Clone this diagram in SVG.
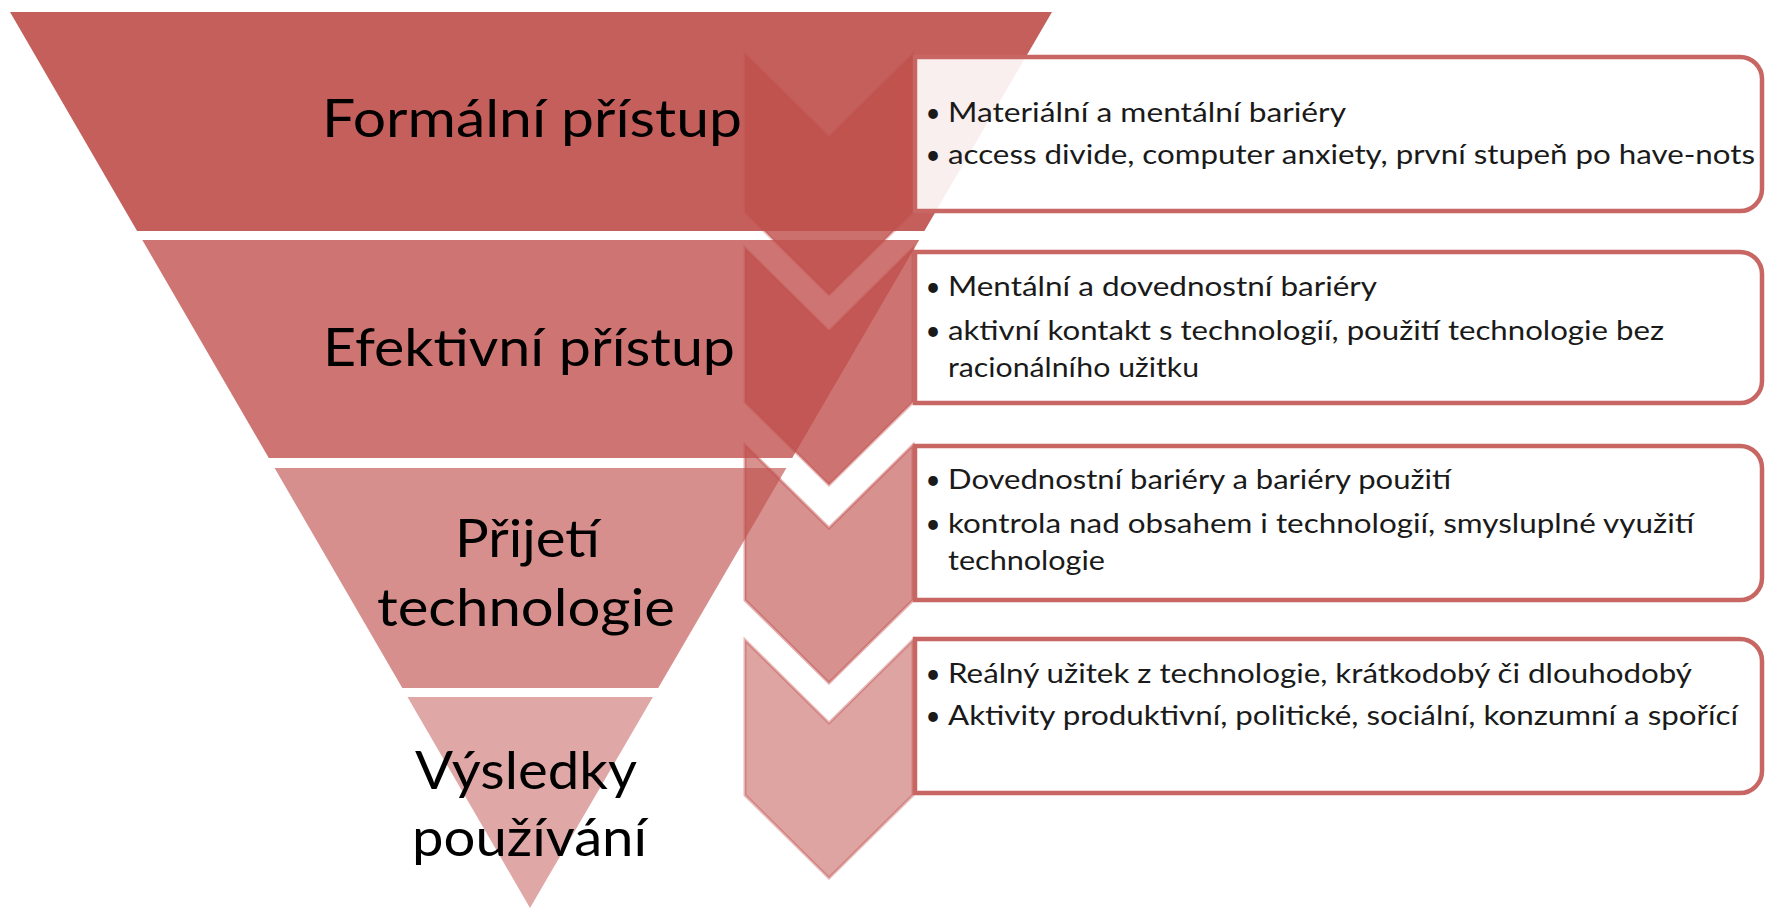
<svg xmlns="http://www.w3.org/2000/svg" width="1765" height="910" viewBox="0 0 1765 910">
<style>
.lbl{font-family:Lato,"Open Sans","Liberation Sans",sans-serif;font-size:53px;fill:#000}
.txt{font-family:Lato,"Open Sans","Liberation Sans",sans-serif;font-size:26px;fill:#1a1a1a}
.bul{font-family:Lato,"Liberation Sans",sans-serif;font-size:26px;fill:#1a1a1a;text-anchor:middle}
.box{fill:#ffffff;fill-opacity:0.9;stroke:#C86664;stroke-width:4.5}
.chev{fill:#C0504D;stroke:#C0504D;stroke-width:3}
</style>
<rect width="1765" height="910" fill="#ffffff"/>

<g id="band-formalni">
<polygon points="10,12 1052,12 924.4,231 137.1,231" fill="#C55F5C"/>
<text class="lbl" x="322" y="137" textLength="420" lengthAdjust="spacingAndGlyphs">Formální přístup</text>
</g>
<g id="band-efektivni">
<polygon points="142.3,240 919.2,240 792.2,458 268.8,458" fill="#CE7573"/>
<text class="lbl" x="323" y="366" textLength="412" lengthAdjust="spacingAndGlyphs">Efektivní přístup</text>
</g>
<g id="band-prijeti">
<polygon points="274.6,468 786.4,468 658.2,688 402.3,688" fill="#D68F8D"/>
<text class="lbl" x="455" y="557" textLength="145" lengthAdjust="spacingAndGlyphs">Přijetí</text>
<text class="lbl" x="377" y="626" textLength="298" lengthAdjust="spacingAndGlyphs">technologie</text>
</g>
<g id="band-vysledky">
<polygon points="407.5,697 652.9,697 530,908" fill="#DFA8A7"/>
<text class="lbl" x="415" y="789" textLength="222" lengthAdjust="spacingAndGlyphs">Výsledky</text>
<text class="lbl" x="412" y="856" textLength="235" lengthAdjust="spacingAndGlyphs">používání</text>
</g>

<g id="connectors">
<polygon class="chev" points="745,640 829,723 913,640 913,795 829,878 745,795" fill-opacity="0.52" stroke-opacity="0.4"/>
<polygon class="chev" points="745,445 829,528 913,445 913,600 829,683 745,600" fill-opacity="0.63" stroke-opacity="0.45"/>
<polygon class="chev" points="745,248 829,331 913,248 913,402 829,485 745,402" fill-opacity="0.8" stroke-opacity="0.4"/>
<polygon class="chev" points="745,54 829,137 913,54 913,212 829,295 745,212" fill-opacity="0.82" stroke-opacity="0.3"/>
</g>

<g id="box-1">
<path class="box" d="M915,57 H1740 A22,22 0 0 1 1762,79 V189 A22,22 0 0 1 1740,211 H915 Z"/>
<text class="bul" x="933" y="122">•</text>
<text class="txt" x="948" y="122" textLength="398" lengthAdjust="spacingAndGlyphs">Materiální a mentální bariéry</text>
<text class="bul" x="933" y="164">•</text>
<text class="txt" x="948" y="164" textLength="807" lengthAdjust="spacingAndGlyphs">access divide, computer anxiety, první stupeň po have-nots</text>
</g>
<g id="box-2">
<path class="box" d="M915,252 H1740 A22,22 0 0 1 1762,274 V381 A22,22 0 0 1 1740,403 H915 Z"/>
<text class="bul" x="933" y="296">•</text>
<text class="txt" x="948" y="296" textLength="429" lengthAdjust="spacingAndGlyphs">Mentální a dovednostní bariéry</text>
<text class="bul" x="933" y="340">•</text>
<text class="txt" x="948" y="340" textLength="716" lengthAdjust="spacingAndGlyphs">aktivní kontakt s technologií, použití technologie bez</text>
<text class="txt" x="948" y="377" textLength="251" lengthAdjust="spacingAndGlyphs">racionálního užitku</text>
</g>
<g id="box-3">
<path class="box" d="M915,446 H1740 A22,22 0 0 1 1762,468 V578 A22,22 0 0 1 1740,600 H915 Z"/>
<text class="bul" x="933" y="489">•</text>
<text class="txt" x="948" y="489" textLength="503" lengthAdjust="spacingAndGlyphs">Dovednostní bariéry a bariéry použití</text>
<text class="bul" x="933" y="533">•</text>
<text class="txt" x="948" y="533" textLength="746" lengthAdjust="spacingAndGlyphs">kontrola nad obsahem i technologií, smysluplné využití</text>
<text class="txt" x="948" y="570" textLength="157" lengthAdjust="spacingAndGlyphs">technologie</text>
</g>
<g id="box-4">
<path class="box" d="M915,639 H1740 A22,22 0 0 1 1762,661 V771 A22,22 0 0 1 1740,793 H915 Z"/>
<text class="bul" x="933" y="683">•</text>
<text class="txt" x="948" y="683" textLength="744" lengthAdjust="spacingAndGlyphs">Reálný užitek z technologie, krátkodobý či dlouhodobý</text>
<text class="bul" x="933" y="725">•</text>
<text class="txt" x="948" y="725" textLength="790" lengthAdjust="spacingAndGlyphs">Aktivity produktivní, politické, sociální, konzumní a spořící</text>
</g>
</svg>
